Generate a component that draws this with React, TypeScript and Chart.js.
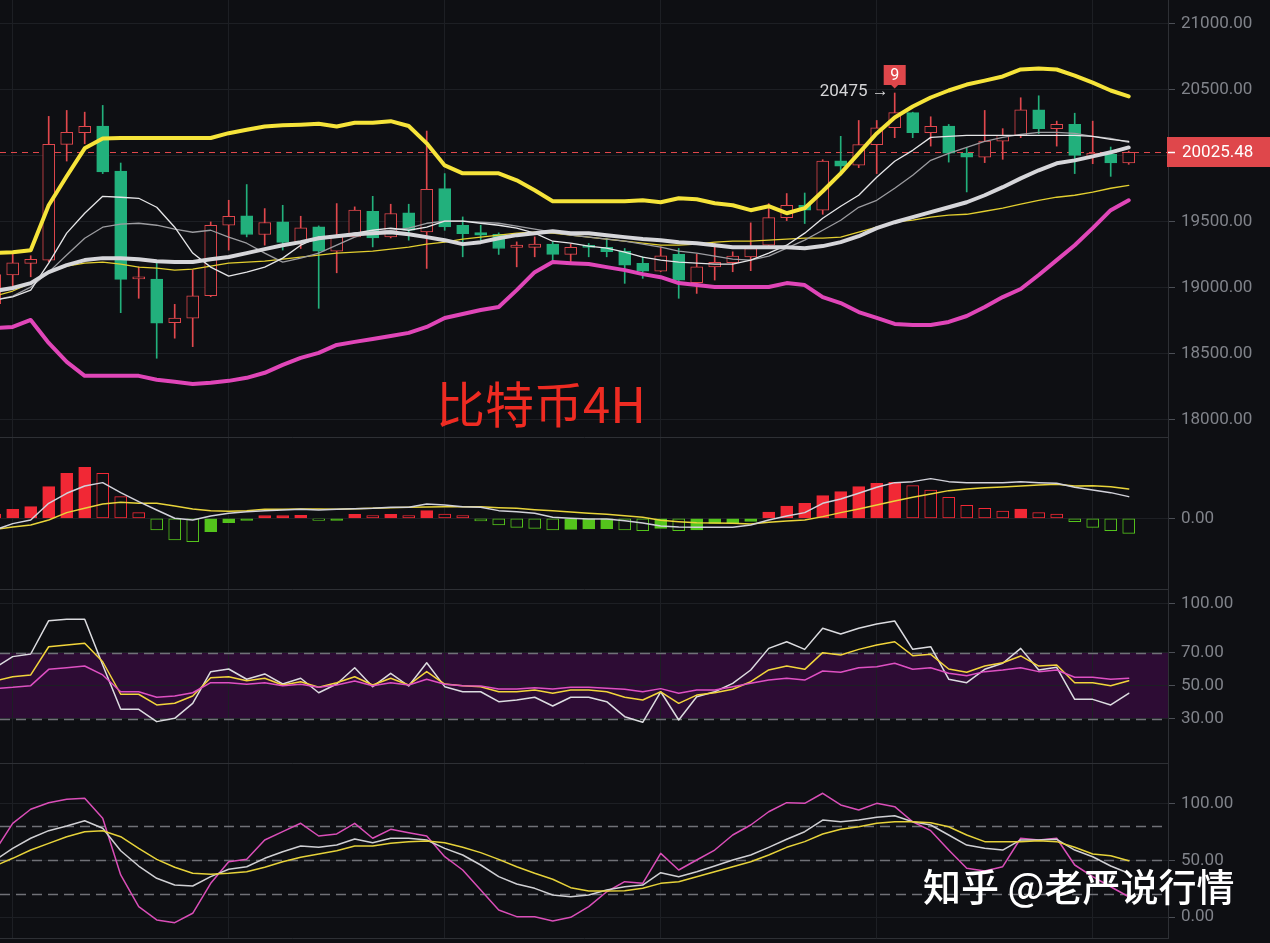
import React, { useEffect, useRef } from 'react';
import { Chart, registerables } from 'chart.js';

Chart.register(...registerables);
Chart.defaults.font.family = 'Roboto';

// ---------- data (index -1 .. 62) ----------
const FIRST_INDEX = -1;
const GRID_X = [0, 12, 24, 36, 48, 60];
const MARK_INDEX = 49;
const MARK_LABEL = '9';
const LAST_PRICE = 20025.48;
const PRICE_TICKS = [18000, 18500, 19000, 19500, 20000, 20500, 21000];
const MACD_TICKS = [0];
const RSI_TICKS = [30, 50, 70, 100];
const RSI_BAND = [30, 70];
const KDJ_TICKS = [0, 50, 100];
const KDJ_LEVELS = [20, 50, 80];
const TITLE = '比特币4H';
const WATERMARK = '知乎 @老严说行情';

const opens = [18880, 19097, 19185, 19210, 20086, 20175, 20224, 19884, 19068, 19066, 18736, 18770, 18940, 19474, 19545, 19404, 19499, 19344, 19462, 19278, 19386, 19580, 19386, 19567, 19424, 19751, 19474, 19419, 19406, 19306, 19306, 19331, 19253, 19318, 19306, 19278, 19185, 19127, 19253, 19039, 19159, 19190, 19235, 19323, 19532, 19625, 19588, 19962, 19928, 20084, 20212, 20326, 20174, 20224, 20020, 19990, 20111, 20154, 20348, 20205, 20237, 19995, 20010, 19945];
const closes = [19100, 19190, 19215, 20086, 20177, 20222, 19877, 19064, 19076, 18732, 18772, 18940, 19474, 19542, 19404, 19495, 19344, 19454, 19278, 19386, 19588, 19378, 19563, 19436, 19746, 19462, 19411, 19399, 19298, 19323, 19331, 19253, 19306, 19306, 19273, 19172, 19127, 19243, 19059, 19159, 19193, 19240, 19298, 19532, 19625, 19588, 19960, 19921, 20084, 20212, 20326, 20174, 20222, 20020, 19990, 20111, 20154, 20348, 20205, 20237, 20003, 20020, 19945, 20025.48];
const highs = [19150, 19261, 19243, 20298, 20343, 20330, 20381, 19945, 19159, 19197, 18875, 19134, 19499, 19663, 19782, 19600, 19625, 19542, 19469, 19638, 19613, 19693, 19633, 19633, 20187, 19865, 19537, 19474, 19416, 19348, 19386, 19348, 19331, 19336, 19374, 19298, 19235, 19310, 19298, 19255, 19336, 19273, 19492, 19638, 19714, 19718, 19970, 20147, 20267, 20267, 20475, 20330, 20295, 20237, 20061, 20343, 20205, 20439, 20454, 20262, 20322, 20262, 20066, 20035];
const lows = [18850, 19008, 19084, 19197, 19960, 20091, 19865, 18812, 18921, 18467, 18619, 18555, 18933, 19286, 19386, 19323, 19286, 19298, 18845, 19114, 19383, 19310, 19378, 19361, 19147, 19436, 19235, 19348, 19253, 19159, 19235, 19205, 19197, 19235, 19235, 19034, 19072, 19122, 18921, 18958, 19059, 19122, 19130, 19310, 19509, 19487, 19557, 19852, 19910, 19865, 20137, 20137, 20073, 19952, 19726, 19948, 19973, 20137, 20167, 20073, 19865, 19940, 19844, 19935];

const bollUpper = [19263, 19270, 19285, 19625, 19845, 20056, 20131, 20134, 20134, 20134, 20134, 20134, 20134, 20171, 20197, 20222, 20230, 20235, 20242, 20222, 20250, 20250, 20262, 20225, 20094, 19927, 19867, 19867, 19867, 19814, 19739, 19656, 19656, 19656, 19656, 19656, 19663, 19648, 19678, 19671, 19640, 19625, 19588, 19618, 19565, 19603, 19731, 19867, 20018, 20169, 20290, 20373, 20441, 20494, 20539, 20569, 20600, 20653, 20660, 20653, 20607, 20554, 20494, 20449];
const bollLower = [18696, 18704, 18757, 18583, 18440, 18334, 18334, 18334, 18334, 18304, 18289, 18273, 18281, 18296, 18319, 18357, 18417, 18470, 18508, 18568, 18591, 18613, 18636, 18659, 18704, 18772, 18802, 18832, 18855, 18983, 19119, 19195, 19187, 19180, 19157, 19134, 19104, 19081, 19036, 19021, 19006, 19006, 19006, 19006, 19036, 19021, 18930, 18885, 18817, 18772, 18727, 18719, 18719, 18742, 18787, 18855, 18930, 18991, 19097, 19210, 19323, 19452, 19588, 19663];
const bollMid = [18976, 18999, 19036, 19119, 19172, 19210, 19225, 19225, 19217, 19202, 19195, 19195, 19217, 19233, 19263, 19293, 19323, 19346, 19376, 19391, 19406, 19414, 19421, 19406, 19384, 19361, 19331, 19346, 19376, 19399, 19414, 19429, 19414, 19414, 19399, 19384, 19369, 19361, 19346, 19338, 19323, 19308, 19308, 19308, 19308, 19300, 19316, 19346, 19391, 19452, 19497, 19535, 19573, 19610, 19648, 19701, 19762, 19829, 19890, 19943, 19965, 19995, 20026, 20063];
const ma7 = [18908, 18931, 18983, 19187, 19414, 19565, 19693, 19686, 19678, 19610, 19459, 19263, 19157, 19089, 19119, 19157, 19225, 19323, 19384, 19391, 19414, 19436, 19452, 19436, 19459, 19505, 19505, 19489, 19474, 19452, 19414, 19353, 19338, 19316, 19301, 19270, 19233, 19210, 19195, 19187, 19180, 19180, 19210, 19263, 19323, 19414, 19527, 19618, 19701, 19837, 19958, 20041, 20139, 20146, 20154, 20154, 20154, 20154, 20154, 20154, 20154, 20146, 20124, 20109];
const ma10 = [18908, 18938, 19006, 19119, 19248, 19376, 19459, 19482, 19489, 19474, 19444, 19421, 19436, 19384, 19338, 19263, 19195, 19225, 19263, 19323, 19384, 19421, 19436, 19452, 19489, 19505, 19505, 19497, 19489, 19467, 19444, 19421, 19399, 19384, 19369, 19353, 19331, 19308, 19278, 19263, 19240, 19217, 19210, 19240, 19301, 19361, 19436, 19512, 19610, 19663, 19754, 19852, 19965, 20018, 20063, 20109, 20139, 20161, 20177, 20177, 20169, 20146, 20131, 20101];
const ma30 = [18938, 18976, 19036, 19119, 19165, 19187, 19195, 19180, 19157, 19150, 19134, 19142, 19165, 19187, 19195, 19202, 19217, 19233, 19248, 19263, 19270, 19278, 19293, 19308, 19331, 19346, 19369, 19384, 19399, 19414, 19421, 19414, 19399, 19384, 19369, 19353, 19338, 19323, 19323, 19331, 19346, 19353, 19353, 19361, 19369, 19376, 19376, 19384, 19421, 19459, 19497, 19512, 19535, 19550, 19557, 19580, 19603, 19633, 19663, 19686, 19701, 19724, 19754, 19776];

const macdHist = [13, 27, 35, 95, 135, 153, 135, 65, 17, -35, -65, -70, -40, -13, -6, 8, 8, 9, -6, -6, 12, 8, 12, 8, 23, 13, 8, -8, -20, -27, -30, -35, -33, -32, -31, -35, -37, -30, -37, -35, -15, -13, -9, 19, 37, 45, 68, 80, 95, 105, 108, 98, 85, 63, 39, 30, 22, 28, 17, 13, -10, -27, -37, -45];
const macdDif = [-35, -16, -5, 45, 75, 97, 107, 77, 50, 25, 0, -5, 7, 15, 20, 23, 25, 27, 25, 27, 29, 30, 33, 33, 43, 40, 35, 33, 23, 20, 15, 3, 0, -2, -2, -7, -14, -23, -26, -27, -27, -27, -20, -5, 7, 17, 45, 58, 75, 93, 107, 110, 119, 110, 107, 107, 107, 110, 107, 105, 93, 85, 77, 65];
const macdDea = [-34, -26, -20, -5, 17, 30, 43, 48, 45, 45, 37, 28, 23, 21, 23, 27, 27, 28, 28, 27, 29, 30, 32, 33, 34, 35, 35, 35, 32, 30, 26, 23, 19, 15, 12, 8, 3, -6, -10, -13, -14, -15, -17, -12, -8, -5, 5, 17, 28, 40, 52, 63, 73, 83, 88, 92, 94, 97, 100, 102, 97, 98, 95, 88];

const rsi6 = [61, 67.8, 69.4, 89.6, 90.4, 90.4, 62.7, 35.9, 35.9, 28.4, 30.4, 39.5, 58.7, 60.3, 54.1, 57.3, 51.2, 54.7, 45.9, 51.2, 61.1, 49.6, 57.7, 50, 64.1, 49.6, 46.5, 46.5, 40.5, 41.5, 43.2, 37.9, 43.2, 43.2, 40.5, 31.4, 28, 46.5, 29.4, 43.5, 46.5, 51.6, 59.7, 72.8, 76.8, 72.2, 85, 81.5, 85, 87.6, 89.4, 72.2, 73.8, 54.1, 52, 60.1, 63.8, 72.8, 59.7, 61.3, 41.9, 41.9, 38.5, 45.6];
const rsi12 = [53, 55.6, 56.7, 73.8, 74.8, 75.9, 64.7, 45, 45, 38.5, 39.5, 43.9, 55, 55.6, 53.2, 54.7, 50.6, 52.6, 49.2, 52, 55.6, 50.6, 54.7, 50.6, 58.7, 51.2, 50.2, 49.6, 46.5, 46.5, 47.6, 45.6, 47.6, 47.6, 46.5, 43.2, 41.5, 46.5, 39.5, 44.5, 45.9, 48, 52.6, 59.7, 62.1, 60.1, 70.2, 68.8, 72.2, 74.8, 76.8, 68.4, 69.2, 60.3, 58.3, 62.1, 64.1, 68.2, 62.1, 62.7, 52, 52, 50.2, 53.2];
const rsi24 = [48.5, 49.2, 50.2, 60.1, 61.1, 62.1, 56.7, 46.5, 46.5, 43.2, 43.9, 45.9, 52, 52, 51, 52, 50.2, 51, 49.2, 50.6, 53, 50.2, 52, 50.6, 54.1, 51, 50.2, 50, 48.2, 48.2, 49, 48.2, 49.2, 49.2, 48.6, 48, 46.5, 48.4, 45.6, 47.6, 47.6, 49.6, 51.6, 53.6, 54.7, 53.6, 59.1, 58.3, 61.1, 61.7, 63.8, 60.1, 61.1, 57.7, 56.2, 58.7, 59.7, 61.1, 58.7, 59.7, 55.3, 55.3, 54.1, 54.7];

const kdjK = [50, 60.6, 69.5, 76.2, 80.3, 85, 78.3, 58.5, 45, 34.2, 28.2, 27.4, 35.6, 42.1, 44.4, 51.8, 57.6, 62.7, 61.5, 63.5, 68.8, 65.6, 69.5, 69.5, 68, 60.6, 54.7, 45.9, 35.6, 29.1, 25.3, 19.4, 17.9, 19.4, 23.8, 26.7, 28.2, 39.1, 35.6, 40, 45, 50.3, 54.7, 61.5, 68.6, 75.3, 85.6, 84.1, 85.6, 88, 89.4, 84.1, 81.2, 72.4, 63.5, 60.6, 59.1, 68, 68, 68.6, 59.1, 53.2, 45, 38.6];
const kdjD = [45, 51.8, 59.1, 65, 70.9, 75.3, 76.2, 70.9, 60.6, 50.9, 43.9, 38.6, 37.7, 38.6, 40, 43.9, 48.8, 52.7, 55.6, 58.5, 62.7, 62.7, 65, 66.5, 67.1, 65.6, 61.5, 56.8, 50.9, 44.4, 38.6, 33.3, 25.9, 22.9, 22.9, 23.2, 25.3, 29.7, 31.2, 35.6, 40, 44.4, 48.8, 54.7, 61.5, 66.5, 73.3, 77.4, 79.7, 82.7, 84.1, 84.1, 83.2, 79.7, 72.4, 66.5, 66.5, 66.5, 67.4, 66.5, 61.5, 55.6, 54.1, 49.7];
const kdjJ = [58, 82.7, 95.1, 100.9, 103.9, 104.8, 87.1, 37.1, 9.1, -2.6, -5, 3.3, 29.7, 48.8, 50.9, 68, 75.3, 82.7, 71.5, 73.3, 82.7, 69.5, 77.4, 74.4, 71.5, 53.2, 41.5, 23.8, 6.2, 0.3, 0.3, -3.5, -0.3, 9.1, 22.3, 31.2, 29.7, 56.2, 41.5, 50.3, 59.1, 72.4, 81.2, 92.9, 100.9, 100.3, 109.2, 98.9, 94.4, 100.3, 97.4, 84.1, 76.2, 59.1, 43, 40.6, 44.4, 69.5, 68, 69.5, 45.9, 35.6, 26.7, 17.9];

// ---------- style ----------
const BG = '#0e0f13';
const GRID = '#1d1f24';
const SEP = '#2e3035';
const TICK_TEXT = '#80838a';
const TICK_MARK = '#4b4e55';
const UP = '#e0474d';
const DOWN = '#22b07c';
const MACD_UP = '#f12835';
const MACD_DOWN = '#54c41c';
const PRICE_RED = '#df474b';
const RSI_FILL = '#2d0c34';
const DASH = '#707177';
const W = 1270;
const AXIS_W = 102;
const X_MIN = -0.7056;
const X_MAX = 64.183;

const pts = (arr: number[]) => arr.map((v, k) => ({ x: k + FIRST_INDEX, y: v }));

function xScale() {
  return {
    type: 'linear', min: X_MIN, max: X_MAX, offset: false,
    afterBuildTicks: (s: any) => { s.ticks = GRID_X.map((v) => ({ value: v })); },
    ticks: { display: false },
    grid: { color: GRID, drawTicks: false, offset: false, lineWidth: 1 },
    border: { display: true, color: SEP, width: 1 },
  };
}
function yScale(min: number, max: number, ticks: number[]) {
  return {
    type: 'linear', position: 'right', min, max,
    afterBuildTicks: (s: any) => { s.ticks = ticks.map((v) => ({ value: v })); },
    afterFit: (s: any) => { s.width = AXIS_W; s.paddingTop = 0; s.paddingBottom = 0; },
    ticks: { color: TICK_TEXT, font: { family: 'Roboto', size: 17 }, padding: 6, autoSkip: false, callback: (v: any) => Number(v).toFixed(2) },
    grid: { color: GRID, tickColor: TICK_MARK, tickLength: 7, lineWidth: 1 },
    border: { display: true, color: SEP, width: 1 },
  };
}
function baseOptions(min: number, max: number, ticks: number[], bottomPad: number) {
  return {
    animation: false, responsive: false, maintainAspectRatio: false, devicePixelRatio: 1, events: [],
    layout: { padding: { left: 0, right: 0, top: 0, bottom: bottomPad } },
    plugins: { legend: { display: false }, tooltip: { enabled: false } },
    scales: { x: xScale(), y: yScale(min, max, ticks) },
  };
}
function line(data: number[], color: string, width: number, order = 0) {
  return { type: 'line', data: pts(data), borderColor: color, borderWidth: width, pointRadius: 0, tension: 0, borderJoinStyle: 'round', borderCapStyle: 'round', order };
}

const levelsPlugin = (band: number[] | null, levels: number[]) => ({
  id: 'levels',
  beforeDraw(chart: any) {
    if (!band) return;
    const { ctx, chartArea: a, scales: { y } } = chart;
    const y1 = y.getPixelForValue(band[1]);
    const y0 = y.getPixelForValue(band[0]);
    ctx.save();
    ctx.fillStyle = RSI_FILL;
    ctx.fillRect(a.left, y1, a.right - a.left, y0 - y1);
    ctx.restore();
  },
  beforeDatasetsDraw(chart: any) {
    const { ctx, chartArea: a, scales: { y } } = chart;
    ctx.save();
    ctx.strokeStyle = DASH; ctx.lineWidth = 1.5; ctx.setLineDash([10, 6]);
    for (const v of levels) {
      const py = Math.round(y.getPixelForValue(v)) + 0.5;
      ctx.beginPath(); ctx.moveTo(a.left, py); ctx.lineTo(a.right - 6, py); ctx.stroke();
    }
    ctx.restore();
  },
});

const mainPlugin = {
  id: 'mainDeco',
  beforeDatasetsDraw(chart: any) {
    const { ctx, chartArea: a, scales: { y } } = chart;
    const py = Math.round(y.getPixelForValue(LAST_PRICE)) + 0.5;
    ctx.save();
    ctx.strokeStyle = PRICE_RED; ctx.lineWidth = 1; ctx.setLineDash([6, 5]);
    ctx.beginPath(); ctx.moveTo(a.left, py); ctx.lineTo(a.right, py); ctx.stroke();
    ctx.restore();
  },
  afterDraw(chart: any) {
    const { ctx, chartArea: a, scales: { x, y } } = chart;
    const py = Math.round(y.getPixelForValue(LAST_PRICE));
    ctx.save();
    ctx.fillStyle = PRICE_RED;
    ctx.fillRect(a.right - 1, py - 15, chart.width - a.right + 1, 30);
    ctx.strokeStyle = '#ffffff'; ctx.lineWidth = 1.5;
    ctx.beginPath(); ctx.moveTo(a.right, py + 0.5); ctx.lineTo(a.right + 7, py + 0.5); ctx.stroke();
    ctx.fillStyle = '#ffffff'; ctx.font = '17px Roboto'; ctx.textBaseline = 'middle'; ctx.textAlign = 'left';
    ctx.fillText(LAST_PRICE.toFixed(2), a.right + 14, py + 1);

    const k = MARK_INDEX - FIRST_INDEX;
    const cx = x.getPixelForValue(MARK_INDEX);
    const hy = y.getPixelForValue(highs[k]);
    ctx.fillStyle = PRICE_RED;
    ctx.fillRect(cx - 11, hy - 28, 22, 20);
    ctx.beginPath(); ctx.moveTo(cx - 4, hy - 8.5); ctx.lineTo(cx + 4, hy - 8.5); ctx.lineTo(cx, hy - 4.5); ctx.closePath(); ctx.fill();
    ctx.fillStyle = '#ffffff'; ctx.font = '16px Roboto'; ctx.textAlign = 'center';
    ctx.fillText(MARK_LABEL, cx, hy - 17.5);
    ctx.fillStyle = '#d6d6d8'; ctx.font = '17px Roboto'; ctx.textAlign = 'right';
    ctx.fillText(`${highs[k]} →`, cx - 6, hy - 1);
    ctx.restore();
  },
};

function mainConfig(): any {
  const up = closes.map((c, k) => c >= opens[k]);
  return {
    type: 'bar',
    data: {
      datasets: [
        line(bollUpper, '#f6e43a', 4),
        line(bollLower, '#e046b8', 4),
        line(bollMid, '#d6d6da', 4),
        line(ma7, '#e6e6e8', 1.3),
        line(ma10, '#9c9ca0', 1.3),
        line(ma30, '#e2ce2f', 1.3),
        {
          type: 'bar', data: opens.map((o, k) => ({ x: k + FIRST_INDEX, y: [o, closes[k]] })),
          backgroundColor: up.map((u) => (u ? BG : DOWN)), borderColor: up.map((u) => (u ? UP : DOWN)),
          borderWidth: 1, borderSkipped: false, barThickness: 12, minBarLength: 2, grouped: false, order: 2,
        },
        {
          type: 'bar', data: lows.map((l, k) => ({ x: k + FIRST_INDEX, y: [l, highs[k]] })),
          backgroundColor: up.map((u) => (u ? UP : DOWN)), borderWidth: 0, barThickness: 1, grouped: false, order: 3,
        },
      ],
    },
    options: baseOptions(17871, 21179, PRICE_TICKS, 1),
    plugins: [mainPlugin],
  };
}

function macdConfig(): any {
  const filled = macdHist.map((v, k) => k === 0 || v >= macdHist[k - 1]);
  const col = macdHist.map((v) => (v >= 0 ? MACD_UP : MACD_DOWN));
  return {
    type: 'bar',
    data: {
      datasets: [
        line(macdDif, '#d2d2da', 1.5, 0),
        line(macdDea, '#e8d43a', 1.5, 0),
        {
          type: 'bar', data: pts(macdHist),
          backgroundColor: col.map((c, k) => (filled[k] ? c : BG)), borderColor: col,
          borderWidth: 1, borderSkipped: false, barThickness: 12, grouped: false, order: 2,
        },
      ],
    },
    options: baseOptions(-212.1, 240.9, MACD_TICKS, 1),
  };
}

function rsiConfig(): any {
  return {
    type: 'line',
    data: { datasets: [line(rsi24, '#de50c2', 1.5), line(rsi12, '#f2d53b', 1.5), line(rsi6, '#dcdce0', 1.5)] },
    options: baseOptions(3.33, 108.18, RSI_TICKS, 1),
    plugins: [levelsPlugin(RSI_BAND, RSI_BAND)],
  };
}

function kdjConfig(): any {
  return {
    type: 'line',
    data: { datasets: [line(kdjD, '#e6d23a', 1.5), line(kdjK, '#d0d0d4', 1.5), line(kdjJ, '#da4eb8', 1.5)] },
    options: baseOptions(-18.53, 135.04, KDJ_TICKS, 2),
    plugins: [levelsPlugin(null, KDJ_LEVELS)],
  };
}

const PANELS = [
  { top: 0, height: 438, make: mainConfig },
  { top: 438, height: 152, make: macdConfig },
  { top: 590, height: 174, make: rsiConfig },
  { top: 764, height: 176, make: kdjConfig },
];

export default function App() {
  const refs = [useRef<HTMLCanvasElement>(null), useRef<HTMLCanvasElement>(null), useRef<HTMLCanvasElement>(null), useRef<HTMLCanvasElement>(null)];
  useEffect(() => {
    document.body.style.margin = '0';
    document.body.style.background = BG;
    const charts = PANELS.map((p, i) => new Chart(refs[i].current as HTMLCanvasElement, p.make()));
    return () => charts.forEach((c) => c.destroy());
  }, []);
  return (
    <div style={{ position: 'absolute', left: 0, top: 0, width: W, height: 943, background: BG, overflow: 'hidden' }}>
      {PANELS.map((p, i) => (
        <canvas key={i} ref={refs[i]} width={W} height={p.height} style={{ position: 'absolute', left: 0, top: p.top, width: W, height: p.height }} />
      ))}
      <div style={{ position: 'absolute', left: 436, top: 377, fontFamily: '"Noto Sans CJK SC", sans-serif', fontSize: 49, lineHeight: '49px', color: '#ee2b22', whiteSpace: 'nowrap' }}>{TITLE}</div>
      <div style={{ position: 'absolute', left: 923, top: 866, fontFamily: '"Noto Sans CJK SC", sans-serif', fontSize: 38, lineHeight: '38px', fontWeight: 500, color: '#ffffff', whiteSpace: 'nowrap' }}>{WATERMARK}</div>
    </div>
  );
}
